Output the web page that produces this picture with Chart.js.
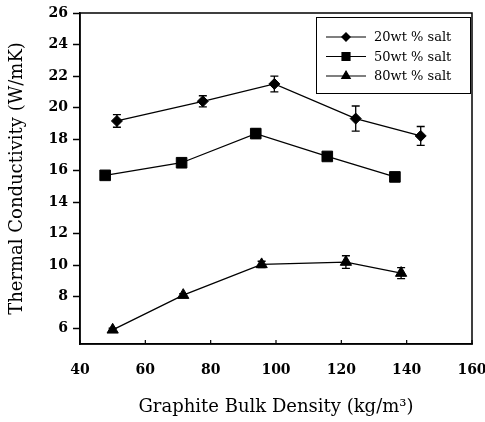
<!DOCTYPE html>
<html>
<head>
<meta charset="utf-8">
<script src="https://cdn.jsdelivr.net/npm/chart.js@4.4.1/dist/chart.umd.min.js"></script>
<style>
  html, body { margin: 0; padding: 0; background: #ffffff; }
  #wrap { width: 485px; height: 422px; }
</style>
</head>
<body>
<div id="wrap"><canvas id="c" width="485" height="422"></canvas></div>
<script>
// ---- data ----
const seriesLabels = ['20wt % salt', '50wt % salt', '80wt % salt'];
const x20 = [51.3, 77.6, 99.5, 124.4, 144.3];
const y20 = [19.15, 20.4, 21.5, 19.3, 18.2];
const e20 = [0.4, 0.35, 0.5, 0.8, 0.6];
const x50 = [47.7, 71.1, 93.8, 115.7, 136.4];
const y50 = [15.7, 16.5, 18.35, 16.9, 15.6];
const e50 = [0.15, 0.15, 0.3, 0.15, 0.1];
const x80 = [50.0, 71.6, 95.6, 121.4, 138.3];
const y80 = [5.9, 8.1, 10.05, 10.2, 9.5];
const e80 = [0.1, 0.1, 0.2, 0.4, 0.35];
const xTicks = [40, 60, 80, 100, 120, 140, 160];
const yTicks = [6, 8, 10, 12, 14, 16, 18, 20, 22, 24, 26];
const xTitle = 'Graphite Bulk Density (kg/m³)';
const yTitle = 'Thermal Conductivity (W/mK)';

const pts = (xs, ys) => xs.map((x, i) => ({ x: x, y: ys[i] }));
const errs = [e20, e50, e80];
const styles = ['rectRot', 'rect', 'triangle'];
const radii = [5.5, 7.5, 6.5];

Chart.defaults.font.family = 'DejaVu Serif';
Chart.defaults.color = '#000';

const frame = {
  id: 'frame',
  afterDraw(chart) {
    const { ctx, chartArea: a, scales } = chart;
    ctx.save();
    ctx.strokeStyle = '#000';
    ctx.lineWidth = 1.5;
    ctx.strokeRect(a.left, a.top, a.right - a.left, a.bottom - a.top);
    // inward x ticks
    ctx.lineWidth = 1.2;
    xTicks.forEach(v => {
      const px = scales.x.getPixelForValue(v);
      ctx.beginPath();
      ctx.moveTo(px, a.bottom);
      ctx.lineTo(px, a.bottom - 4);
      ctx.stroke();
    });
    ctx.restore();
  }
};

const errorBars = {
  id: 'errorBars',
  afterDatasetsDraw(chart) {
    const { ctx, scales } = chart;
    ctx.save();
    ctx.strokeStyle = '#000';
    ctx.lineWidth = 1.3;
    chart.data.datasets.forEach((ds, di) => {
      const meta = chart.getDatasetMeta(di);
      meta.data.forEach((el, i) => {
        const v = ds.data[i].y, e = errs[di][i];
        const yt = scales.y.getPixelForValue(v + e);
        const yb = scales.y.getPixelForValue(v - e);
        ctx.beginPath();
        ctx.moveTo(el.x, yt); ctx.lineTo(el.x, yb);
        ctx.moveTo(el.x - 4, yt); ctx.lineTo(el.x + 4, yt);
        ctx.moveTo(el.x - 4, yb); ctx.lineTo(el.x + 4, yb);
        ctx.stroke();
      });
    });
    ctx.restore();
  }
};

const boxLegend = {
  id: 'boxLegend',
  afterDraw(chart) {
    const { ctx, chartArea: a } = chart;
    const right = a.right - 2, top = a.top + 4, w = 154, h = 76;
    const left = right - w;
    ctx.save();
    ctx.fillStyle = '#fff';
    ctx.fillRect(left, top, w, h);
    ctx.strokeStyle = '#000';
    ctx.lineWidth = 1;
    ctx.strokeRect(left + 0.5, top + 0.5, w, h);
    ctx.font = '13px "DejaVu Serif"';
    ctx.textBaseline = 'middle';
    ctx.textAlign = 'left';
    chart.data.datasets.forEach((ds, i) => {
      const y = top + 20 + i * 19.5;
      ctx.strokeStyle = '#000';
      ctx.lineWidth = 1.2;
      ctx.beginPath();
      ctx.moveTo(left + 10, y); ctx.lineTo(left + 50, y);
      ctx.stroke();
      ctx.fillStyle = '#000';
      Chart.helpers.drawPoint(ctx, { pointStyle: styles[i], radius: radii[i] * 0.75, rotation: 0, borderWidth: 1 }, left + 30, y);
      ctx.fillStyle = '#000';
      ctx.fillText(ds.label, left + 58, y + 1);
    });
    ctx.restore();
  }
};

new Chart(document.getElementById('c'), {
  type: 'scatter',
  data: {
    datasets: [
      { label: seriesLabels[0], data: pts(x20, y20) },
      { label: seriesLabels[1], data: pts(x50, y50) },
      { label: seriesLabels[2], data: pts(x80, y80) }
    ].map((d, i) => Object.assign(d, {
      showLine: true,
      borderColor: '#000',
      backgroundColor: '#000',
      borderWidth: 1.3,
      pointStyle: styles[i],
      pointRadius: radii[i],
      pointBorderWidth: 1,
      pointBackgroundColor: '#000',
      pointBorderColor: '#000'
    }))
  },
  options: {
    responsive: false,
    animation: false,
    layout: { padding: { top: 13, right: 13, left: 0, bottom: 0 } },
    plugins: { legend: { display: false }, tooltip: { enabled: false } },
    scales: {
      x: {
        type: 'linear', min: 40, max: 160,
        afterBuildTicks: s => { s.ticks = xTicks.map(v => ({ value: v })); },
        afterFit: s => { s.height = 78; s.paddingLeft = 0; s.paddingRight = 0; },
        grid: { drawOnChartArea: false, drawTicks: false },
        border: { color: '#000', width: 1.5 },
        ticks: { padding: 18, font: { size: 14, weight: 'bold' }, color: '#000', maxRotation: 0 },
        title: { display: true, text: xTitle, font: { size: 18 }, color: '#000', padding: { top: 4, bottom: 4 } }
      },
      y: {
        type: 'linear', min: 5, max: 26,
        afterBuildTicks: s => { s.ticks = yTicks.map(v => ({ value: v })); },
        afterFit: s => { s.width = 80; s.paddingTop = 0; s.paddingBottom = 0; },
        grid: { drawOnChartArea: false, tickLength: 7, tickColor: '#000', tickWidth: 1.5 },
        border: { color: '#000', width: 1.5 },
        ticks: { padding: 5, font: { size: 14, weight: 'bold' }, color: '#000' },
        title: { display: true, text: yTitle, font: { size: 18 }, color: '#000', padding: { top: 7, bottom: 7 } }
      }
    }
  },
  plugins: [frame, errorBars, boxLegend]
});
</script>
</body>
</html>
